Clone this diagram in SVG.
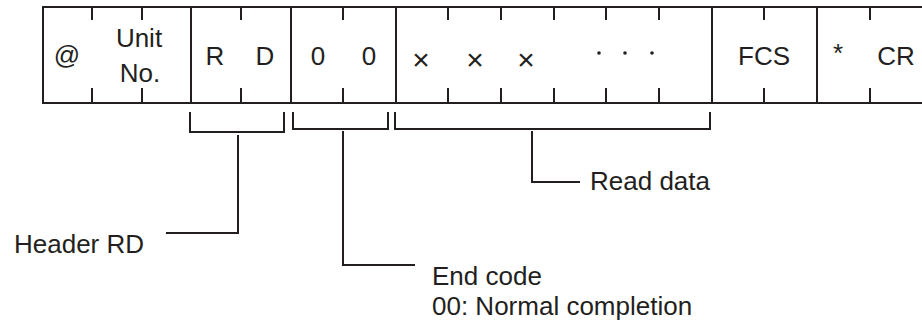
<svg xmlns="http://www.w3.org/2000/svg" width="922" height="322" viewBox="0 0 922 322">
<style>
.ln{stroke:#231f20;stroke-width:2;fill:none}
.t{font-family:"Liberation Sans",Arial,sans-serif;font-size:26px;fill:#231f20}
.m{text-anchor:middle}
.x{font-size:30px}
</style>
<rect width="922" height="322" fill="#fff"/>
<g id="frame">
<path class="ln" d="M922,7 H43 V103 H922"/>
<path class="ln" d="M191,7 V103 M291,7 V103 M396,7 V103 M712,7 V103 M817,7 V103"/>
<path class="ln" d="M92,7 V20 M142,7 V20 M241,7 V20 M343,7 V20 M448,7 V20 M501,7 V20 M554,7 V20 M606,7 V20 M659,7 V20 M764,7 V20 M870,7 V20"/>
<path class="ln" d="M92,88 V103 M142,88 V103 M241,88 V103 M343,88 V103 M448,88 V103 M501,88 V103 M554,88 V103 M606,88 V103 M659,88 V103 M764,88 V103 M870,88 V103"/>
</g>
<g id="fields">
<text class="t m" x="67" y="64">@</text>
<text class="t m" x="139" y="47">Unit</text>
<text class="t m" x="140" y="82">No.</text>
<text class="t m" x="215" y="65">R</text>
<text class="t m" x="265" y="65">D</text>
<text class="t m" x="318" y="65">0</text>
<text class="t m" x="369" y="65">0</text>
<text class="t m x" x="421" y="70">×</text>
<text class="t m x" x="475" y="70">×</text>
<text class="t m x" x="526" y="70">×</text>
<circle cx="599" cy="53" r="1.8" fill="#231f20"/>
<circle cx="625" cy="53" r="1.8" fill="#231f20"/>
<circle cx="652" cy="53" r="1.8" fill="#231f20"/>
<text class="t m" x="764" y="65">FCS</text>
<text class="t m" x="838" y="62">*</text>
<text class="t m" x="896" y="65">CR</text>
</g>
<g id="connectors">
<path class="ln" d="M190,112 V132 H284 V112"/>
<path class="ln" d="M293,112 V129 H388 V112"/>
<path class="ln" d="M395,112 V129 H710 V112"/>
<path class="ln" d="M238,135 V233 H166"/>
<path class="ln" d="M343,131 V265 H415"/>
<path class="ln" d="M532,131 V182 H580"/>
</g>
<g id="labels">
<text class="t" x="14" y="253">Header RD</text>
<text class="t" x="590" y="190">Read data</text>
<text class="t" x="432" y="285">End code</text>
<text class="t" x="432" y="315">00: Normal completion</text>
</g>
</svg>
